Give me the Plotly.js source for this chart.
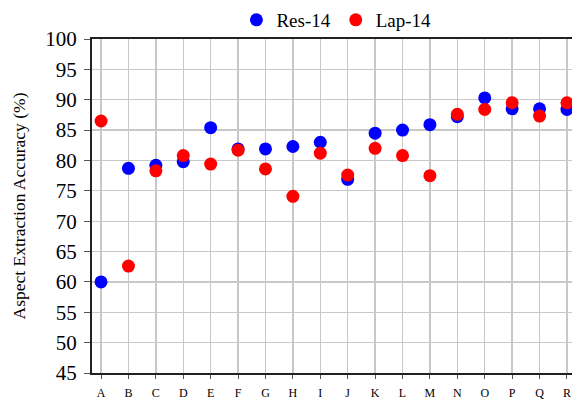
<!DOCTYPE html>
<html><head><meta charset="utf-8">
<script src="https://cdn.plot.ly/plotly-3.0.1.min.js"></script>
<style>html,body{margin:0;padding:0;overflow:hidden;background:#fff;}#chart{width:576px;height:404px;}</style>
</head><body><div id="chart"></div>
<script>
const categories = ["A","B","C","D","E","F","G","H","I","J","K","L","M","N","O","P","Q","R"];
const res14 = [60.0,78.7,79.2,79.8,85.4,81.9,81.9,82.3,83.0,76.9,84.5,85.0,85.9,87.2,90.3,88.5,88.5,88.4];
const lap14 = [86.5,62.6,78.3,80.8,79.4,81.7,78.6,74.1,81.2,77.6,82.0,80.8,77.5,87.6,88.4,89.5,87.3,89.5];
const yTicks = [45,50,55,60,65,70,75,80,85,90,95,100];

const xIdx = categories.map((c,i)=>i);
const font = "'Liberation Serif', 'DejaVu Serif', serif";
const traces = [
  {x:xIdx, y:res14, type:"scatter", mode:"markers", name:"Res-14", marker:{color:"#0000ff", size:13}},
  {x:xIdx, y:lap14, type:"scatter", mode:"markers", name:"Lap-14", marker:{color:"#ff0000", size:13}}
];
const layout = {
  width:576, height:404,
  margin:{l:92, r:0, t:39, b:31},
  paper_bgcolor:"#fff", plot_bgcolor:"#fff",
  font:{family:font, color:"#000"},
  showlegend:true,
  legend:{orientation:"h", x:0.505, xanchor:"center", y:1.0, yanchor:"bottom", font:{size:19, family:font}, itemwidth:30, tracegroupgap:0, bgcolor:"rgba(0,0,0,0)"},
  xaxis:{
    range:[-0.33,17.33], tickmode:"array", tickvals:xIdx, ticktext:categories,
    showgrid:true, gridcolor:"#c8c8c8", gridwidth:1.3,
    showline:true, linecolor:"#222", linewidth:2, mirror:true,
    ticks:"outside", ticklen:4, tickcolor:"#555", tickwidth:1, ticklabelstandoff:4,
    tickfont:{size:12, family:font}, zeroline:false
  },
  yaxis:{
    range:[45,100], tickmode:"array", tickvals:yTicks,
    showgrid:true, gridcolor:"#c8c8c8", gridwidth:1.3,
    showline:true, linecolor:"#222", linewidth:2, mirror:true,
    ticks:"outside", ticklen:6, tickcolor:"#555", tickwidth:1, ticklabelstandoff:3,
    tickfont:{size:21, family:font}, zeroline:false,
    title:{text:"Aspect Extraction Accuracy (%)", font:{size:17.5, family:font}, standoff:15}
  }
};
Plotly.newPlot("chart", traces, layout, {displayModeBar:false, staticPlot:true});
</script></body></html>
